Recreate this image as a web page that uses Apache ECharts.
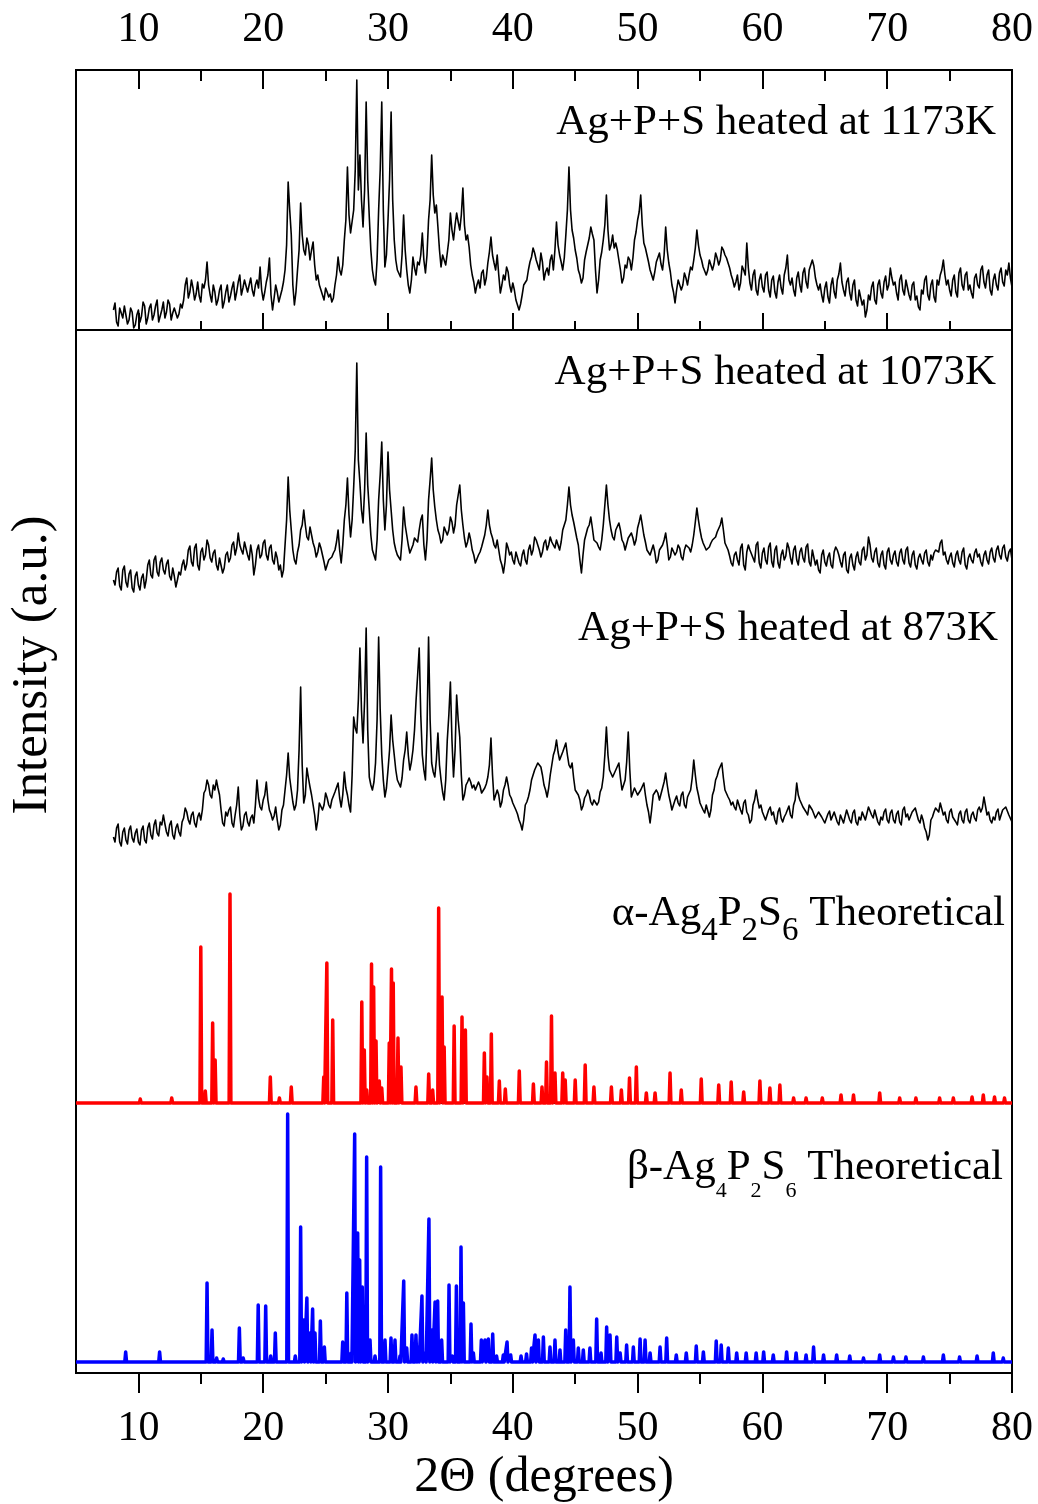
<!DOCTYPE html>
<html>
<head>
<meta charset="utf-8">
<title>XRD patterns of Ag+P+S products</title>
<script src="https://cdn.jsdelivr.net/npm/echarts@6/dist/echarts.min.js"></script>
<style>
  html, body { margin: 0; padding: 0; background: #fff; }
  #chart { width: 1038px; height: 1504px; }
</style>
</head>
<body>
<div id="chart"></div>
<script>
// ---- measured scans: intensity (a.u.) on a STEP_DEG grid from START_DEG,
//      plus the readings half-way between those grid points ----
const START_DEG = 8;
const STEP_DEG = 0.25;

const scan1173 = [
  20,8,22,12,25,10,18,5,20,14,24,12,26,15,30,14,28,18,26,17,
  24,16,22,45,32,50,30,48,28,42,68,35,45,25,40,22,38,28,42,30,
  48,35,50,38,52,34,50,63,30,48,72,20,45,28,40,60,148,95,25,60,
  127,80,92,70,88,50,45,35,42,33,28,45,73,55,90,163,97,120,250,175,
  103,228,113,60,45,120,228,63,110,218,90,60,53,115,60,37,73,55,65,97,
  57,110,175,117,103,63,70,77,117,90,117,100,142,90,83,55,37,50,57,45,
  67,93,67,75,37,55,63,45,47,30,20,35,43,60,73,77,65,77,50,62,
  70,60,108,75,60,95,163,100,80,60,47,70,85,103,90,37,70,90,135,80,
  95,87,70,47,65,73,60,90,110,135,87,75,60,50,68,77,60,103,67,45,
  27,50,40,57,45,63,70,100,75,63,55,70,60,77,65,83,75,67,55,43,
  55,47,60,87,47,55,40,50,43,55,40,50,38,48,42,55,75,45,40,52,
  45,57,48,60,70,52,40,35,42,33,45,38,50,67,40,48,37,45,30,40,
  25,13,35,43,30,45,37,48,40,62,45,37,50,40,50,35,45,30,23,40,
  50,35,45,33,50,55,70,45,40,50,38,57,45,55,40,37,52,45,60,48,
  55,40,50,45,57,48,60,67,43
];
const scan1173Mid = [
  27,4,17,24,6,22,2,15,8,28,6,22,10,24,8,20,12,30,10,22,
  12,26,30,52,38,42,36,34,46,50,45,28,38,30,45,28,45,34,48,38,
  55,42,44,45,40,45,42,40,38,55,35,32,38,34,48,85,120,45,38,80,
  95,75,85,80,65,55,40,30,38,36,32,55,60,65,110,115,95,160,140,130,
  140,150,80,50,70,160,120,75,150,130,70,62,75,80,45,50,62,68,75,70,
  75,130,135,125,80,75,65,90,100,105,108,115,105,95,65,48,45,42,60,52,
  78,75,60,55,45,50,58,38,40,28,26,45,50,68,82,70,60,68,58,55,
  75,80,85,68,72,120,120,92,72,55,52,78,92,96,60,50,78,105,100,85,
  82,80,60,52,62,70,72,98,118,105,82,68,55,58,70,66,75,80,58,38,
  40,48,45,52,55,60,82,85,70,62,60,68,66,72,70,80,72,62,50,48,
  40,64,55,62,40,60,35,56,38,58,33,54,32,55,36,62,50,52,34,58,
  38,62,42,58,64,45,46,28,48,27,52,32,56,48,34,52,30,50,24,42,
  30,20,30,48,26,50,32,54,45,52,48,30,55,35,52,30,48,34,20,36,
  54,30,50,28,45,60,55,50,34,55,33,62,40,58,45,32,56,42,64,42,
  60,35,56,40,62,44,55,52
];

const scan1073 = [
  20,28,14,30,18,26,12,24,15,22,12,35,25,40,28,38,30,36,24,32,
  13,28,35,30,50,38,52,35,48,40,60,42,47,35,42,27,45,38,55,45,
  67,50,58,45,55,25,50,42,57,45,52,40,48,30,23,55,123,70,40,48,
  70,90,63,73,57,43,57,45,30,40,43,50,70,37,80,122,63,113,237,117,
  77,167,90,50,40,100,158,70,148,90,57,45,40,93,65,47,55,60,70,85,
  40,100,142,93,70,57,73,65,83,67,95,115,75,53,67,50,37,45,53,65,
  90,67,55,60,40,27,57,45,40,48,37,45,40,50,45,63,55,43,57,50,
  63,55,60,50,70,80,113,85,70,55,27,60,72,83,60,57,50,75,115,80,
  63,70,77,60,50,62,67,55,72,85,65,50,45,55,37,50,55,67,40,52,
  45,55,43,50,57,48,65,92,70,57,50,53,60,63,70,82,57,50,37,45,
  40,52,35,48,50,42,55,37,47,40,53,38,50,37,45,40,57,42,50,40,
  48,42,53,38,50,35,30,45,38,43,35,48,50,38,45,30,42,35,43,38,
  50,40,63,42,48,37,45,35,48,40,45,38,47,40,50,37,45,35,42,40,
  47,38,45,47,52,57,45,40,43,37,45,40,48,35,42,40,47,43,38,45,
  40,48,42,50,45,52,43,48,40
];
const scan1073Mid = [
  15,32,10,34,13,30,8,28,10,26,20,40,22,44,24,42,26,40,20,24,
  20,25,40,36,54,34,56,30,52,45,55,38,50,30,40,32,48,42,58,52,
  55,46,60,40,45,35,55,45,60,40,55,36,42,35,30,80,90,50,36,55,
  75,75,60,65,52,48,52,38,32,38,47,58,50,55,95,85,80,150,140,90,
  110,115,65,45,60,125,100,95,110,70,50,44,60,75,55,45,62,58,80,55,
  60,120,110,80,65,60,75,70,78,75,105,90,62,58,60,45,35,48,55,75,
  75,62,52,50,35,38,52,48,36,50,34,50,36,55,50,60,50,48,60,55,
  58,52,62,58,72,95,95,78,62,40,45,62,75,72,62,53,60,95,95,70,
  60,72,70,57,52,60,62,60,78,75,58,52,43,48,40,48,60,55,43,50,
  48,52,40,55,52,55,78,80,62,55,48,57,58,68,75,70,55,44,34,48,
  35,56,30,55,46,38,58,32,52,36,57,33,54,32,50,44,52,36,54,35,
  52,38,56,34,52,40,27,50,34,47,32,53,45,33,48,27,46,30,48,35,
  53,45,55,38,52,33,49,31,52,36,49,34,51,36,53,33,49,31,46,36,
  50,34,40,50,48,60,48,36,47,33,49,36,52,31,46,37,51,46,34,49,
  36,52,38,54,41,55,39,51
];

const scan873 = [
  13,22,8,18,10,20,12,17,8,20,10,22,15,25,17,28,35,18,25,15,
  22,18,28,42,30,35,27,33,30,57,70,55,65,70,55,27,38,40,27,35,
  63,20,35,28,32,27,70,43,50,68,40,30,43,20,40,60,97,60,40,60,
  163,47,82,63,45,20,47,40,57,45,50,58,67,43,78,55,38,133,117,202,
  107,222,73,60,87,213,95,53,80,135,95,70,63,90,118,80,100,150,202,95,
  70,213,87,73,117,70,50,110,168,73,155,113,50,65,72,62,60,68,57,62,
  73,112,50,60,43,60,73,55,47,40,30,20,45,53,70,80,87,83,65,53,
  75,95,110,90,98,107,85,87,60,55,40,52,60,48,50,45,58,73,123,80,
  73,80,87,60,70,118,53,62,55,60,67,45,27,55,60,50,62,77,55,40,
  50,47,55,45,53,60,90,62,47,40,45,33,55,70,80,87,60,53,45,43,
  50,40,47,38,27,45,60,42,38,30,40,35,30,38,32,33,40,35,45,67,
  50,43,38,45,40,32,38,33,27,36,30,38,28,35,27,40,30,37,28,33,
  38,30,43,35,40,28,33,38,30,37,30,36,28,40,33,30,38,42,30,35,
  22,10,30,38,40,47,35,30,38,33,28,36,30,38,30,35,32,40,38,53,
  35,30,33,38,30,40,43,35,28
];
const scan873Mid = [
  8,26,4,22,6,24,8,21,5,24,7,27,11,30,14,25,26,14,29,11,
  26,14,32,38,26,38,23,37,40,60,65,52,60,62,40,24,34,43,23,45,
  35,24,38,24,35,45,52,40,55,50,36,34,30,25,45,75,72,48,45,100,
  85,55,72,55,35,30,45,45,52,42,52,60,52,55,62,45,75,122,150,140,
  150,120,65,68,130,140,70,62,100,110,80,68,72,100,95,88,120,175,135,80,
  120,130,78,90,85,58,70,135,110,100,130,75,55,68,68,65,62,64,58,66,
  85,75,52,55,48,65,65,52,45,36,26,30,48,60,75,82,86,75,60,62,
  85,100,98,92,100,95,82,72,58,50,44,55,56,45,52,48,62,95,95,78,
  72,82,72,62,88,80,55,60,55,62,55,38,40,55,57,52,68,65,48,42,
  54,44,58,42,55,72,75,55,48,37,45,40,60,74,82,72,58,50,48,40,
  52,36,50,35,30,50,50,45,36,28,43,38,26,42,28,36,44,32,50,55,
  48,45,35,47,42,30,40,35,25,39,28,40,25,37,25,42,27,40,25,30,
  40,28,45,32,42,25,30,41,27,40,27,39,25,43,36,28,36,44,27,30,
  18,15,33,42,38,45,38,27,41,35,25,39,27,41,27,38,29,43,42,44,
  38,27,30,41,28,38,45,37
];

// ---- calculated patterns: reflection positions (2θ) and intensities (a.u.) ----
const alphaPos = [
  10.15,12.67,15.0,15.36,15.95,16.15,17.34,20.57,21.3,22.25,24.85,25.1,25.57,
  27.9,28.1,28.3,28.68,28.85,29.04,29.3,29.5,30.1,30.28,30.42,30.8,31.04,
  32.24,33.26,33.58,34.06,34.33,34.5,35.3,35.93,36.2,37.72,37.93,38.28,38.92,
  39.4,40.52,41.65,42.34,42.7,43.1,43.38,44.0,44.2,45.0,45.8,46.5,47.9,48.7,
  49.35,49.9,50.7,51.4,52.6,53.5,55.1,56.5,57.5,58.5,59.8,60.6,61.4,62.5,
  63.5,64.8,66.3,67.3,69.4,71.0,72.3,74.2,75.3,76.8,77.7,78.6,79.4
];
const alphaInt = [
  4,5,156,12,80,43,209,26,5,16,26,140,83,
  101,53,13,139,116,62,22,15,60,134,120,65,36,
  16,29,13,195,106,56,77,86,73,50,26,69,22,
  14,32,19,16,41,87,30,30,23,23,38,16,16,13,
  25,36,10,10,30,13,24,18,21,11,22,15,18,5,
  5,5,8,8,10,5,5,5,5,6,8,6,5
];

const betaPos = [
  8.98,11.7,15.5,15.9,16.27,16.8,18.09,18.4,19.6,20.2,20.6,20.97,21.96,22.57,
  23.0,23.24,23.5,23.75,23.96,24.15,24.58,24.9,26.37,26.7,27.04,27.33,27.57,
  27.73,27.94,28.29,28.56,28.96,29.41,29.76,30.24,30.56,30.96,31.26,31.5,
  31.92,32.24,32.43,32.72,32.99,33.28,33.52,33.77,33.98,34.3,34.89,35.16,
  35.48,35.85,36.04,36.65,36.84,37.48,37.77,38.04,38.39,38.7,39.24,39.54,
  39.83,40.66,41.1,41.5,41.78,42.05,42.45,42.98,43.38,43.78,44.24,44.58,
  44.85,45.25,45.65,46.18,46.72,47.07,47.52,47.79,48.33,48.6,49.12,49.66,
  50.2,50.6,51.0,51.8,52.33,53.1,53.9,54.7,55.27,56.3,56.7,57.27,57.94,
  58.7,59.5,60.1,60.87,61.94,62.7,63.5,64.1,64.9,65.95,67.0,68.1,69.4,
  70.5,71.5,72.9,74.5,75.8,77.2,78.5,79.3
];
const betaInt = [
  10,10,79,32,4,3,34,4,57,56,6,29,248,6,
  135,42,64,29,53,29,41,15,20,69,9,228,129,
  102,75,205,22,6,195,22,24,22,6,81,14,
  27,27,15,66,9,143,32,60,61,22,77,6,
  76,115,59,38,9,22,22,23,28,6,7,20,
  7,6,8,14,27,22,25,15,22,12,32,75,
  22,14,12,14,43,9,35,27,25,9,17,15,
  23,22,9,15,24,7,9,16,10,21,17,14,9,
  9,9,10,7,10,9,7,15,7,7,6,4,7,
  5,5,5,7,5,6,9,4
];

// ---- axis ticks and texts ----
const majorTicks = [10, 20, 30, 40, 50, 60, 70, 80];
const minorTicks = [15, 25, 35, 45, 55, 65, 75];
const sampleNames = [
  'Ag+P+S heated at 1173K',
  'Ag+P+S heated at 1073K',
  'Ag+P+S heated at 873K'
];
const xTitle = '2\u0398 (degrees)';
const yTitle = 'Intensity (a.u.)';

// ---- layout ----
const SERIF = '"Liberation Serif", "Times New Roman", serif';
const X_MIN = 5, X_MAX = 80;
const PEAK_HALF_WIDTH = 0.07;
const GRIDS = [
  { top: 70, height: 260 },   // upper panel
  { top: 330, height: 773 },  // middle panel
  { top: 1103, height: 270 }  // lower panel
];
// vertical offsets of the traces inside their panel (a.u.)
const OFF_1073 = 503, OFF_873 = 253, OFF_ALPHA = 0, OFF_BETA = 11;

// interleave grid readings with the half-step readings
function scanSeries(values, mids, offset) {
  const pts = [];
  values.forEach((v, i) => {
    pts.push([START_DEG + i * STEP_DEG, v + offset]);
    if (i < mids.length) pts.push([START_DEG + (i + 0.5) * STEP_DEG, mids[i] + offset]);
  });
  return pts;
}
// narrow line profile for every calculated reflection
function stickSeries(pos, inten, offset) {
  const pts = [[X_MIN, offset]];
  pos.forEach((p, i) => {
    pts.push([p - PEAK_HALF_WIDTH, offset], [p, inten[i] + offset], [p + PEAK_HALF_WIDTH, offset]);
  });
  pts.push([X_MAX, offset]);
  return pts;
}

function xAxisDef(gridIndex, position, ticks, opts) {
  return Object.assign({
    type: 'value', gridIndex: gridIndex, position: position,
    min: X_MIN, max: X_MAX,
    axisLine: { show: false, onZero: false },
    splitLine: { show: false },
    axisTick: ticks ? {
      show: true, inside: ticks.inside, length: ticks.length,
      customValues: ticks.values,
      lineStyle: { color: '#000', width: 2 }
    } : { show: false },
    axisLabel: { show: false }
  }, opts || {});
}

const chart = echarts.init(document.getElementById('chart'), null, { renderer: 'canvas' });

const traceStyle = { color: '#000', width: 1.6, join: 'round' };

const option = {
  animation: false,
  backgroundColor: '#fff',
  grid: GRIDS.map(g => ({
    left: 76, right: 26, top: g.top, height: g.height,
    show: true, borderColor: '#000', borderWidth: 2, backgroundColor: 'transparent'
  })),
  xAxis: [
    // upper panel, top edge: labelled scale
    xAxisDef(0, 'top', { inside: true, length: 19, values: majorTicks }, {
      axisLabel: {
        show: true, customValues: majorTicks, margin: 19,
        fontSize: 42, fontFamily: SERIF, color: '#000'
      }
    }),
    xAxisDef(0, 'top', { inside: true, length: 11, values: minorTicks }),
    // upper panel, bottom edge
    xAxisDef(0, 'bottom', { inside: true, length: 17, values: majorTicks }),
    xAxisDef(0, 'bottom', { inside: true, length: 9, values: minorTicks }),
    // middle panel
    xAxisDef(1, 'bottom', null),
    // lower panel, bottom edge: labelled scale and axis title
    xAxisDef(2, 'bottom', { inside: false, length: 20, values: majorTicks }, {
      axisLabel: {
        show: true, customValues: majorTicks, margin: 35,
        fontSize: 42, fontFamily: SERIF, color: '#000'
      },
      name: xTitle, nameLocation: 'middle', nameGap: 80,
      nameTextStyle: { fontSize: 50, fontFamily: SERIF, color: '#000' }
    }),
    xAxisDef(2, 'bottom', { inside: false, length: 11, values: minorTicks })
  ],
  yAxis: GRIDS.map((g, i) => ({
    type: 'value', gridIndex: i, min: 0, max: g.height, show: false
  })),
  series: [
    {
      name: sampleNames[0], type: 'line', xAxisIndex: 0, yAxisIndex: 0,
      data: scanSeries(scan1173, scan1173Mid, 0), showSymbol: false,
      lineStyle: traceStyle, z: 3
    },
    {
      name: sampleNames[1], type: 'line', xAxisIndex: 4, yAxisIndex: 1,
      data: scanSeries(scan1073, scan1073Mid, OFF_1073), showSymbol: false,
      lineStyle: traceStyle, z: 3
    },
    {
      name: sampleNames[2], type: 'line', xAxisIndex: 4, yAxisIndex: 1,
      data: scanSeries(scan873, scan873Mid, OFF_873), showSymbol: false,
      lineStyle: traceStyle, z: 3
    },
    {
      name: 'alpha', type: 'line', xAxisIndex: 4, yAxisIndex: 1,
      data: stickSeries(alphaPos, alphaInt, OFF_ALPHA), showSymbol: false, clip: false,
      lineStyle: { color: '#ff0000', width: 3.5, join: 'round' }, z: 4
    },
    {
      name: 'beta', type: 'line', xAxisIndex: 5, yAxisIndex: 2,
      data: stickSeries(betaPos, betaInt, OFF_BETA), showSymbol: false, clip: false,
      lineStyle: { color: '#0000ff', width: 3.5, join: 'round' }, z: 4
    }
  ],
  graphic: [
    {
      type: 'text', x: 996, y: 123, z: 10,
      style: { text: sampleNames[0], fontSize: 43, fontFamily: SERIF, fill: '#000', align: 'right', verticalAlign: 'middle' }
    },
    {
      type: 'text', x: 996, y: 373, z: 10,
      style: { text: sampleNames[1], fontSize: 43, fontFamily: SERIF, fill: '#000', align: 'right', verticalAlign: 'middle' }
    },
    {
      type: 'text', x: 998, y: 629, z: 10,
      style: { text: sampleNames[2], fontSize: 43, fontFamily: SERIF, fill: '#000', align: 'right', verticalAlign: 'middle' }
    },
    {
      type: 'text', x: 1005, y: 892, z: 10,
      style: {
        text: '{m|\u03b1-Ag}{s|4}{m|P}{s|2}{m|S}{s|6}{m| Theoretical}',
        align: 'right', verticalAlign: 'top', fill: '#000',
        rich: {
          m: { fontSize: 43, fontFamily: SERIF, lineHeight: 43, verticalAlign: 'top', fill: '#000' },
          s: { fontSize: 33, fontFamily: SERIF, lineHeight: 56, verticalAlign: 'bottom', fill: '#000' }
        }
      }
    },
    {
      type: 'text', x: 1003, y: 1146, z: 10,
      style: {
        text: '{m|\u03b2-Ag}{s|4}{m|P}{s|2}{m|S}{s|6}{m| Theoretical}',
        align: 'right', verticalAlign: 'top', fill: '#000',
        rich: {
          m: { fontSize: 43, fontFamily: SERIF, lineHeight: 43, verticalAlign: 'top', fill: '#000' },
          s: { fontSize: 22, fontFamily: SERIF, lineHeight: 56, verticalAlign: 'bottom', fill: '#000' }
        }
      }
    },
    {
      type: 'text', x: 33, y: 665, rotation: Math.PI / 2, z: 10,
      style: { text: yTitle, fontSize: 51, fontFamily: SERIF, fill: '#000', align: 'center', verticalAlign: 'middle' }
    }
  ]
};

chart.setOption(option);
</script>
</body>
</html>
